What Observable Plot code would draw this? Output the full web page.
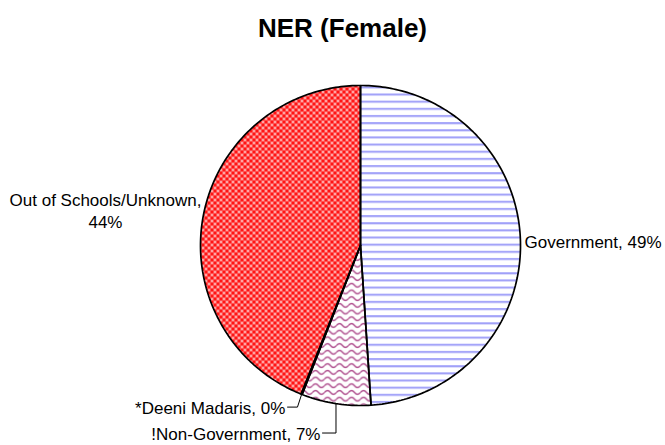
<!DOCTYPE html>
<html><head><meta charset="utf-8">
<script src="https://cdn.jsdelivr.net/npm/d3@7"></script>
<script src="https://cdn.jsdelivr.net/npm/@observablehq/plot@0.6"></script>
<style>body{margin:0;background:#fff} svg{display:block}</style>
</head><body><div id="chart"></div>
<script>
// ---- data ----
const categories = ["Government", "!Non-Government", "*Deeni Madaris", "Out of Schools/Unknown"];
const values = [49, 7, 0.1, 44];
const valueLabels = ["49%", "7%", "0%", "44%"];
const title = "NER (Female)";

// ---- layout / style ----
const W = 665, H = 445, CX = 360, CY = 245, R = 160;
const FONT = "Liberation Sans, Arial, sans-serif";
const fills = ["url(#pGov)", "url(#pNon)", "url(#pDeeni)", "url(#pOut)"];
// label anchors in pie-radius units (x right, y up)
const labelLayout = [
  {x: 1.025, y: 0.031, anchor: "start", sep: ", "},
  {x: -0.25, y: -1.172, anchor: "end", sep: ", ", leader: [-0.2375, null]},
  {x: -0.47, y: -1.01, anchor: "end", sep: ", ", leader: [-0.456, -0.394]},
  {x: -1.594, y: 0.225, anchor: "middle", sep: ",\n"}
];

const pie = d3.pie().sort(null).value(d => d)(values);
const slices = pie.map((p, i) => {
  const pts = [[0, 0]];
  const n = Math.max(2, Math.ceil((p.endAngle - p.startAngle) / (Math.PI / 180)));
  for (let k = 0; k <= n; k++) {
    const t = p.startAngle + (p.endAngle - p.startAngle) * k / n;
    pts.push([Math.sin(t), Math.cos(t)]);
  }
  pts.push([0, 0]);
  return {i, pts, mid: (p.startAngle + p.endAngle) / 2};
});

const marks = [];
slices.forEach(s => marks.push(Plot.line(s.pts, {x: d => d[0], y: d => d[1], fill: fills[s.i], stroke: "none"})));
slices.forEach(s => marks.push(Plot.line(s.pts, {x: d => d[0], y: d => d[1], stroke: "#000", strokeWidth: 1.7, strokeLinejoin: "miter"})));

labelLayout.forEach((L, i) => {
  marks.push(Plot.text([categories[i] + L.sep + valueLabels[i]], {
    x: () => L.x, y: () => L.y, text: d => d, textAnchor: L.anchor,
    fontSize: 17, fontFamily: FONT, fill: "#000", lineHeight: 1.3
  }));
  if (L.leader) {
    const m = slices[i].mid;
    const end = [Math.sin(m), Math.cos(m)];
    const elbowX = L.leader[1] == null ? end[0] : L.leader[1];
    const pts = [[L.leader[0], L.y], [elbowX, L.y], end];
    marks.push(Plot.line(pts, {x: d => d[0], y: d => d[1], stroke: "#000", strokeWidth: 1}));
  }
});

marks.push(Plot.text([title], {
  x: () => (342 - CX) / R, y: () => (CY - 28) / R, text: d => d,
  fontSize: 26, fontWeight: "bold", fontFamily: FONT, fill: "#000"
}));

const svg = Plot.plot({
  width: W, height: H,
  marginTop: 0, marginRight: 0, marginBottom: 0, marginLeft: 0,
  x: {domain: [-CX / R, (W - CX) / R], range: [0, W], axis: null},
  y: {domain: [-(H - CY) / R, CY / R], range: [H, 0], axis: null},
  style: {background: "#fff", overflow: "visible"},
  marks
});

// patterns
const defs = d3.select(svg).insert("defs", ":first-child");
// Government: horizontal blue lines
const pg = defs.append("pattern").attr("id", "pGov").attr("patternUnits", "userSpaceOnUse")
  .attr("width", 8).attr("height", 7.15);
pg.append("rect").attr("width", 8).attr("height", 7.15).attr("fill", "#fff");
pg.append("rect").attr("y", 0).attr("width", 8).attr("height", 2.2).attr("fill", "#b0b0fc");
pg.append("rect").attr("y", 0.6).attr("width", 8).attr("height", 1).attr("fill", "#9c9cf6");
// Non-Government: purple waves
const pn = defs.append("pattern").attr("id", "pNon").attr("patternUnits", "userSpaceOnUse")
  .attr("width", 12).attr("height", 6.7);
pn.append("rect").attr("width", 12).attr("height", 6.7).attr("fill", "#fff");
pn.append("path").attr("d", "M0 3.3 C2 0.8 4 0.8 6 3.3 S10 5.8 12 3.3")
  .attr("fill", "none").attr("stroke", "#b0508f").attr("stroke-width", 1.4);
// Deeni Madaris: light pink
const pd = defs.append("pattern").attr("id", "pDeeni").attr("patternUnits", "userSpaceOnUse")
  .attr("width", 4).attr("height", 4);
pd.append("rect").attr("width", 4).attr("height", 4).attr("fill", "#e8c0d8");
// Out of Schools: red lattice
const po = defs.append("pattern").attr("id", "pOut").attr("patternUnits", "userSpaceOnUse")
  .attr("width", 6).attr("height", 6);
po.append("rect").attr("width", 6).attr("height", 6).attr("fill", "#ff5050");
[[0,1,3,1],[1,0,1,3],[3,4,3,1],[4,3,1,3]].forEach(([x,y,w,h]) =>
  po.append("rect").attr("x", x).attr("y", y).attr("width", w).attr("height", h).attr("fill", "#ff0000"));
[[4,1],[1,4]].forEach(([x,y]) =>
  po.append("rect").attr("x", x).attr("y", y).attr("width", 1).attr("height", 1).attr("fill", "#fff"));
[[3,1],[5,1],[4,0],[4,2],[0,4],[2,4],[1,3],[1,5]].forEach(([x,y]) =>
  po.append("rect").attr("x", x).attr("y", y).attr("width", 1).attr("height", 1).attr("fill", "#ffa0a0"));

document.getElementById("chart").appendChild(svg);
</script>
</body></html>
